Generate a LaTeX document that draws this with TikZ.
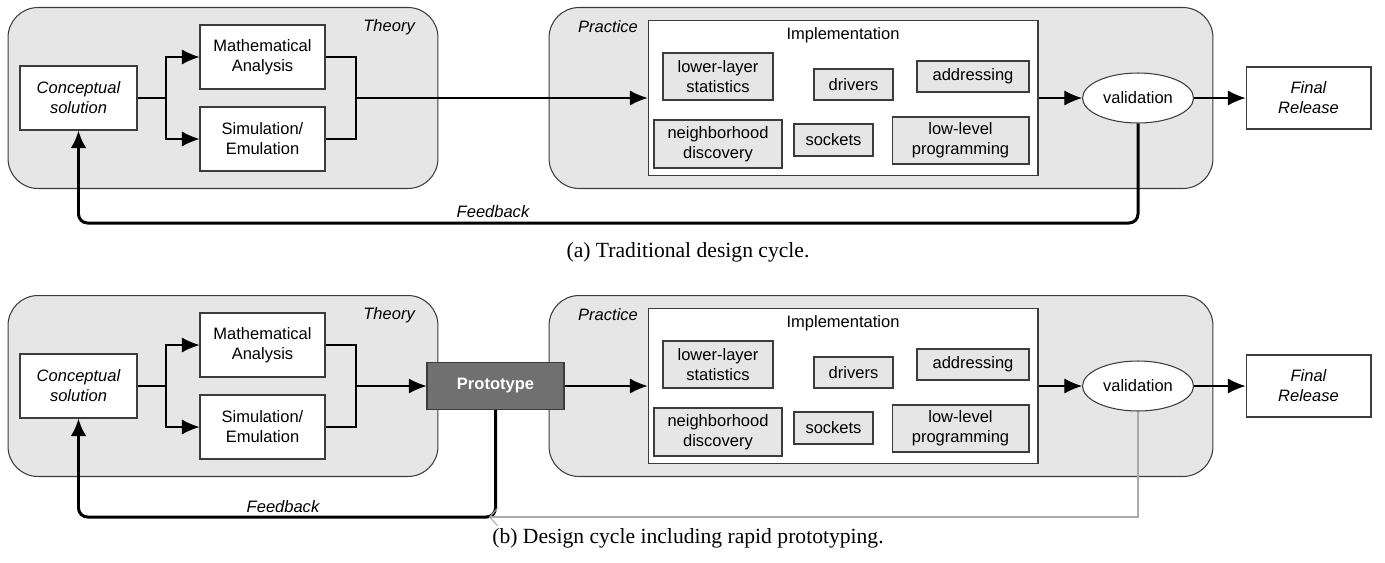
\documentclass[tikz,border=0pt]{standalone}
\usepackage{fontspec}
\setmainfont{Liberation Serif}
\setsansfont{Liberation Sans}
\usetikzlibrary{arrows.meta, positioning, shapes.geometric}

\definecolor{areagray}{HTML}{E6E6E6}
\definecolor{protogray}{HTML}{707070}
\definecolor{edgegray}{HTML}{3C3C3C}
\definecolor{backgray}{HTML}{AAAAAA}

\tikzset{
  area/.style={draw=edgegray, fill=areagray, rounded corners=0.6cm, line width=0.6pt},
  block/.style={draw=edgegray, fill=white, align=center, inner sep=0pt, line width=0.6pt},
  task/.style={draw=edgegray, fill=areagray, align=center, inner sep=0pt, line width=0.6pt},
  link/.style={line width=0.6pt},
  flow/.style={link, -{Latex[length=10pt,width=8.5pt]}},
  feedback/.style={line width=1.7pt, rounded corners=0.18cm, -{Latex[length=10pt,width=9pt]}},
  back/.style={draw=backgray, line width=0.6pt, -{Straight Barb[length=4.5pt,width=10pt]}},
  lbl/.style={font=\sffamily\itshape\fontsize{9.4}{11.4}\selectfont},
  caption/.style={font=\rmfamily\fontsize{12.3}{14}\selectfont}
}

\begin{document}
\begin{tikzpicture}[x=0.02cm, y=-0.02cm,
  every node/.style={font=\sffamily\fontsize{9.4}{11.4}\selectfont}]
  \useasboundingbox (0,0) rectangle (1385,562);

  % parts shared by both cycles
  \foreach \p/\dy in {a/0, b/288} {
    \node[area, minimum width=8.6cm, minimum height=3.62cm]  (theory\p)   at (223, 98+\dy)   {};
    \node[area, minimum width=13.28cm, minimum height=3.62cm] (practice\p) at (881, 98+\dy)   {};
    \node[lbl, anchor=east]  (theorytext\p)   at (421, 27+\dy) {Theory};
    \node[lbl, anchor=west]  (practicetext\p) at (572, 27+\dy) {Practice};

    \node[block, lbl, minimum width=2.34cm, minimum height=1.28cm] (conc\p) at (78.5, 98+\dy)  {Conceptual\\solution};
    \node[block, minimum width=2.5cm, minimum height=1.28cm]       (math\p) at (262.5, 57+\dy) {Mathematical\\Analysis};
    \node[block, minimum width=2.5cm, minimum height=1.28cm]       (sim\p)  at (262.5, 139+\dy) {Simulation/\\Emulation};

    \node[block, minimum width=7.8cm, minimum height=3.1cm] (impl\p) at (843, 98+\dy) {};
    \node (impltext\p) at (843, 35+\dy) {Implementation};
    \node[task, minimum width=2.2cm,  minimum height=0.94cm] (stats\p)   at (718, 76.5+\dy)  {lower-layer\\statistics};
    \node[task, minimum width=1.58cm, minimum height=0.62cm] (drivers\p) at (853.5, 84.5+\dy) {drivers};
    \node[task, minimum width=2.24cm, minimum height=0.62cm] (address\p) at (973, 76.5+\dy)  {addressing};
    \node[task, minimum width=2.56cm, minimum height=0.96cm] (neigh\p)   at (718, 144+\dy)   {neighborhood\\discovery};
    \node[task, minimum width=1.58cm, minimum height=0.64cm] (sockets\p) at (833.5, 140+\dy) {sockets};
    \node[task, minimum width=2.74cm, minimum height=0.94cm] (lowlevel\p) at (960.5, 140.5+\dy) {low-level\\programming};

    \node[ellipse, draw=edgegray, fill=white, line width=0.6pt, inner sep=0pt,
          minimum width=2.22cm, minimum height=1cm] (valid\p) at (1138, 98+\dy) {validation};
    \node[block, lbl, minimum width=2.5cm, minimum height=1.24cm] (final\p) at (1308.5, 98+\dy) {Final\\Release};

    \coordinate (split\p) at (166, 98+\dy);
    \coordinate (merge\p) at (356, 98+\dy);

    \draw[link] (conc\p) -- (split\p);
    \draw[flow] (split\p) |- (math\p);
    \draw[flow] (split\p) |- (sim\p);
    \draw[link] (math\p) -| (merge\p);
    \draw[link] (sim\p) -| (merge\p);
    \draw[flow] (impl\p) -- (valid\p);
    \draw[flow] (valid\p) -- (final\p);
  }

  % (a) traditional
  \draw[flow] (mergea) -- (impla);
  \draw[feedback] (valida.south) |- (conca.south |- 0,223) -- (conca.south);
  \node[lbl] (fbtexta) at (493, 212) {Feedback};
  \node[caption] (capa) at (688, 252) {(a) Traditional design cycle.};

  % (b) with prototyping
  \node[draw=edgegray, fill=protogray, text=white, font=\sffamily\bfseries\fontsize{9.4}{11.4}\selectfont,
        line width=0.6pt, minimum width=2.74cm, minimum height=0.94cm] (proto) at (495.5, 386) {Prototype};
  \draw[flow] (mergeb) -- (proto);
  \draw[flow] (proto) -- (implb);
  \draw[feedback] (proto.south) |- (concb.south |- 0,517) -- (concb.south);
  \coordinate (fbend) at (489, 517);
  \draw[back] (validb.south) |- (fbend);
  \node[lbl] (fbtextb) at (283, 507) {Feedback};
  \node[caption] (capb) at (688, 538) {(b) Design cycle including rapid prototyping.};
\end{tikzpicture}
\end{document}
